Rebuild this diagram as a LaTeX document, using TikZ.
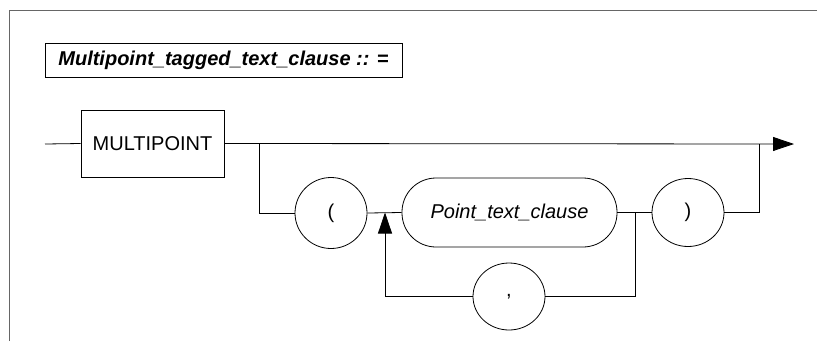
\documentclass[tikz,border=0pt]{standalone}
\usepackage{fontspec}
\setmainfont{Liberation Sans}
\usetikzlibrary{arrows.meta,calc,shapes.geometric}

\tikzset{
	termbox/.style={draw,line width=0.8pt,minimum width=#1,minimum height=67pt,inner sep=0pt},
	litoval/.style={draw,line width=0.8pt,ellipse,minimum width=72pt,minimum height=#1,inner sep=0pt},
	nontermbox/.style={draw,line width=0.8pt,rounded corners=34pt,minimum width=215pt,minimum height=69pt,inner sep=0pt},
	railline/.style={line width=0.8pt},
	railarrow/.style={line width=0.8pt,-{Triangle[length=21pt,width=14pt]}}
}

\begin{document}
\begin{tikzpicture}[x=1pt,y=-1pt,font=\fontsize{20}{24}\selectfont]
					\useasboundingbox (0,0) rectangle (817,341);
					%FRAME
					\draw[line width=0.8pt,gray!80!black] (9.5,341) -- (9.5,10) -- (817,10);
					
					%TITLE
					\node[draw,line width=0.8pt,minimum width=357pt,minimum height=34pt,inner sep=0pt] (title) at (223.5,60) {\bfseries\itshape Multipoint\_tagged\_text\_clause :: =};
					
					%NODES
					\node[termbox=143pt] (multipoint) at (152.5,143.5) {MULTIPOINT};
					\node[litoval=71pt] (lparen) at (331,213) {(};
					\node[nontermbox] (pointclause) at (509.5,212.5) {\itshape Point\_text\_clause};
					\node[litoval=68pt] (rparen) at (688,212.5) {)};
					\node[litoval=67pt] (comma) at (509,296.5) {,};
					
					\coordinate (start) at (45,144);
					\coordinate (split) at (259,144);
					\coordinate (join) at (759,144);
					\coordinate (finish) at (794,144);
					\coordinate (loopin) at (385,212.5);
					\coordinate (loopout) at (635,212.5);
					
					%RAILS
					\draw[railline] (start) -- (multipoint.west);
					\draw[railarrow] (multipoint.east) -- (finish);
					\draw[railline] (split) |- (lparen.west);
					\draw[railline] (lparen.east) -- (pointclause.west);
					\draw[railline] (pointclause.east) -- (rparen.west);
					\draw[railline] (rparen.east) -| (join);
					\draw[railline] (loopout) |- (comma.east);
					\draw[railarrow] (comma.west) -| (loopin);
					
				  \end{tikzpicture}
\end{document}
